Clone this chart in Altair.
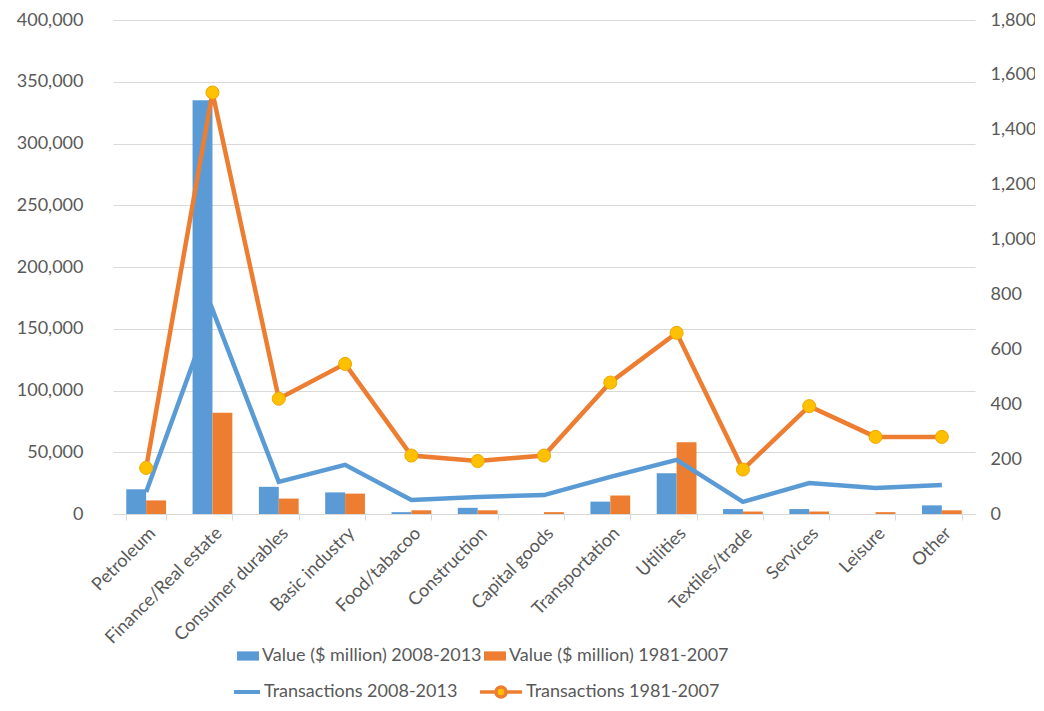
import altair as alt
import pandas as pd

categories = ["Petroleum", "Finance/Real estate", "Consumer durables", "Basic industry",
              "Food/tabacoo", "Construction", "Capital goods", "Transportation",
              "Utilities", "Textiles/trade", "Services", "Leisure", "Other"]
value_2008_2013 = [20000, 335000, 22000, 17500, 1500, 5000, 0, 10000, 33000, 4000, 4000, 0, 7000]
value_1981_2007 = [11000, 82000, 12500, 16500, 3000, 3000, 1500, 15000, 58000, 2000, 2000, 1500, 3000]
trans_2008_2013 = [80, 745, 117, 179, 51, 62, 69, 135, 197, 44, 113, 95, 106]
trans_1981_2007 = [168, 1536, 420, 547, 213, 193, 213, 479, 660, 162, 393, 281, 281]

value_series = ["Value ($ million) 2008-2013", "Value ($ million) 1981-2007"]
trans_series_a = "Transactions 2008-2013"
trans_series_b = "Transactions 1981-2007"
left_ticks = list(range(0, 400001, 50000))
right_ticks = list(range(0, 1801, 200))

BLUE = "#5B9BD5"
ORANGE = "#ED7D31"
GOLD = "#FFC000"
GREY = "#595959"
LIGHT = "#D9D9D9"
FONT = "Lato"
FS = 18

bars_df = pd.DataFrame({
    "category": categories * 2,
    "series": [value_series[0]] * len(categories) + [value_series[1]] * len(categories),
    "value": value_2008_2013 + value_1981_2007,
})
lines_df = pd.DataFrame({
    "category": categories,
    "ta": trans_2008_2013,
    "tb": trans_1981_2007,
    "sa": [trans_series_a] * len(categories),
    "sb": [trans_series_b] * len(categories),
})

x_main = alt.X(
    "category:N", sort=categories, title=None,
    scale=alt.Scale(paddingInner=0.4, paddingOuter=0.2),
    axis=alt.Axis(labelAngle=-45, labelFont=FONT, labelFontSize=FS, labelColor=GREY,
                  domainColor=LIGHT, domainWidth=1, tickColor=LIGHT, tickSize=6,
                  tickBand="extent", labelPadding=4, grid=False),
)
x_plain = alt.X("category:N", sort=categories, title=None)

bars = alt.Chart(bars_df).mark_bar().encode(
    x=x_main,
    xOffset=alt.XOffset("series:N", sort=value_series,
                        scale=alt.Scale(domain=value_series, paddingInner=0, paddingOuter=0)),
    y=alt.Y("value:Q", title=None,
            scale=alt.Scale(domain=[0, 400000], nice=False),
            axis=alt.Axis(values=left_ticks, labelExpr="format(datum.value, ',')",
                          grid=True, gridColor=LIGHT,
                          domain=False, ticks=False, labelPadding=30, labelFont=FONT,
                          labelFontSize=FS, labelColor=GREY)),
    fill=alt.Fill("series:N", sort=value_series,
                  scale=alt.Scale(domain=value_series, range=[BLUE, ORANGE]),
                  legend=alt.Legend(title=None, orient="none", legendX=124, legendY=625,
                                    direction="horizontal",
                                    symbolType="M-1,-0.42H1V0.42H-1Z", symbolSize=484,
                                    symbolStrokeWidth=0, labelFont=FONT, labelFontSize=FS,
                                    labelColor=GREY, labelOffset=3, columnPadding=2,
                                    labelLimit=0, padding=0)),
)

right_axis = alt.Axis(orient="right", values=right_ticks,
                      labelExpr="format(datum.value, ',')", grid=False,
                      domain=False, ticks=False, labelPadding=15, labelFont=FONT,
                      labelFontSize=FS, labelColor=GREY)
right_scale = alt.Scale(domain=[0, 1800], nice=False)

line_a = alt.Chart(lines_df).mark_line(strokeWidth=4.5).encode(
    x=x_plain,
    y=alt.Y("ta:Q", title=None, scale=right_scale, axis=right_axis),
    stroke=alt.Stroke("sa:N", scale=alt.Scale(domain=[trans_series_a], range=[BLUE]),
                      legend=alt.Legend(title=None, orient="none", legendX=119, legendY=657,
                                        symbolType="stroke", symbolSize=676,
                                        symbolStrokeWidth=4, labelFont=FONT,
                                        labelFontSize=FS, labelColor=GREY, labelOffset=2,
                                        labelLimit=0, padding=0)),
)

line_b = alt.Chart(lines_df).mark_line(strokeWidth=4.5).encode(
    x=x_plain,
    y=alt.Y("tb:Q", title=None, scale=right_scale, axis=right_axis),
    stroke=alt.Stroke("sb:N", scale=alt.Scale(domain=[trans_series_b], range=[ORANGE]),
                      legend=alt.Legend(title=None, orient="none", legendX=365, legendY=649,
                                        symbolType="M-1,0H-0.26M0.26,0H1M0.24,0A0.24,0.24 0 1,1 -0.24,0A0.24,0.24 0 1,1 0.24,0Z",
                                        symbolSize=1764, symbolStrokeWidth=3.5,
                                        symbolFillColor=GOLD, labelFont=FONT,
                                        labelFontSize=FS, labelColor=GREY, labelOffset=2,
                                        labelLimit=0, padding=0)),
)

points_b = alt.Chart(lines_df).mark_point(filled=True, size=170, fill=GOLD, stroke="#F0A800",
                                          strokeWidth=1, opacity=1).encode(
    x=x_plain,
    y=alt.Y("tb:Q", title=None, scale=right_scale, axis=right_axis),
)

lines = alt.layer(line_a, line_b, points_b).resolve_scale(stroke="independent")

chart = alt.layer(bars, lines).resolve_scale(y="independent").properties(
    width=862, height=494,
    background="white",
    autosize=alt.AutoSizeParams(type="none"),
    padding={"left": 105, "top": 12, "right": 60, "bottom": 189},
).configure_view(stroke=None)

chart.save("out.html", embed_options={"renderer": "svg", "actions": False})
